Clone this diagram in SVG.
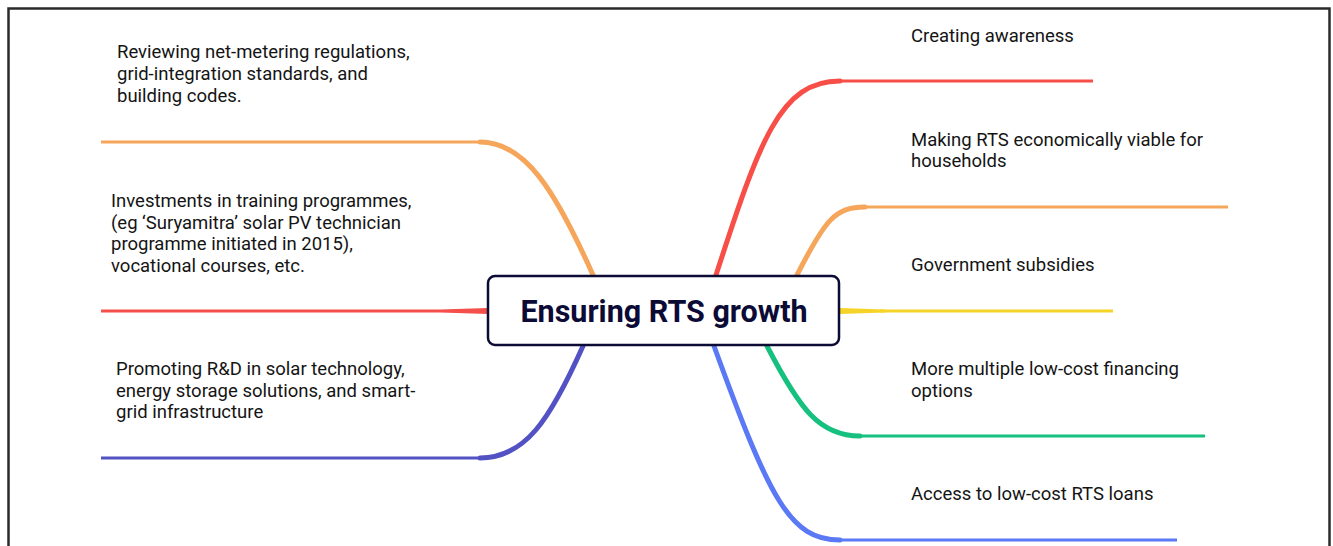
<svg xmlns="http://www.w3.org/2000/svg" width="1333" height="546" viewBox="0 0 1333 546">
<style>
.t{font-family:Roboto,"Liberation Sans",sans-serif;font-size:18.5px;fill:#141414}
.c{fill:none;stroke-width:5;stroke-linecap:round}
.h{fill:none;stroke-width:3}
.title{font-family:Roboto,"Liberation Sans",sans-serif;font-size:30.5px;font-weight:bold;fill:#0b0b36}
</style>
<rect x="0" y="0" width="1333" height="546" fill="#ffffff"/>
<path d="M8.5,560 V8.5 H1329.5 V560" fill="none" stroke="#2b2b2b" stroke-width="2.5"/>
<g id="connectors">
<path class="c" stroke="#f5a65b" d="M593,275 C555,190 525,142 480,142"/>
<path class="h" stroke="#f5a65b" d="M480,142 H101"/>
<path fill="#f44f4a" d="M488,308 L440,309.5 L440,312.5 L488,314 Z"/>
<path class="h" stroke="#f44f4a" d="M440,311 H101"/>
<path class="c" stroke="#5352c4" d="M583,346 C550,420 525,458 480,458"/>
<path class="h" stroke="#5352c4" d="M480,458 H101"/>
<path class="c" stroke="#f74f48" d="M716,275 C760,140 780,81 840,81"/>
<path class="h" stroke="#f74f48" d="M840,81 H1093"/>
<path class="c" stroke="#f5a65b" d="M797,275 C825,220 835,207 865,207"/>
<path class="h" stroke="#f5a65b" d="M865,207 H1228"/>
<path fill="#f5d327" d="M839,308 L885,309.5 L885,312.5 L839,314 Z"/>
<path class="h" stroke="#f5d327" d="M880,311 H1113"/>
<path class="c" stroke="#16c07f" d="M767,346 C800,410 820,436 860,436"/>
<path class="h" stroke="#16c07f" d="M860,436 H1205"/>
<path class="c" stroke="#5b78f5" d="M714,346 C770,500 790,540 840,540"/>
<path class="h" stroke="#5b78f5" d="M840,540 H1177"/>
</g>
<g id="center">
<rect x="488" y="276" width="351" height="69" rx="7" fill="#ffffff" stroke="#0b0b36" stroke-width="2.5"/>
<text class="title" x="664" y="322" text-anchor="middle">Ensuring RTS growth</text>
</g>
<g id="n-reviewing"><text class="t" x="117" y="58">Reviewing net-metering regulations,<tspan x="117" y="80">grid-integration standards, and</tspan><tspan x="117" y="102">building codes.</tspan></text></g>
<g id="n-investments"><text class="t" x="111" y="207">Investments in training programmes,<tspan x="111" y="229">(eg ‘Suryamitra’ solar PV technician</tspan><tspan x="111" y="250">programme initiated in 2015),</tspan><tspan x="111" y="272">vocational courses, etc.</tspan></text></g>
<g id="n-promoting"><text class="t" x="116" y="375">Promoting R&amp;D in solar technology,<tspan x="116" y="397">energy storage solutions, and smart-</tspan><tspan x="116" y="418">grid infrastructure</tspan></text></g>
<g id="n-awareness"><text class="t" x="911" y="42">Creating awareness</text></g>
<g id="n-viable"><text class="t" x="911" y="146">Making RTS economically viable for<tspan x="911" y="167">households</tspan></text></g>
<g id="n-subsidies"><text class="t" x="911" y="271">Government subsidies</text></g>
<g id="n-financing"><text class="t" x="911" y="375">More multiple low-cost financing<tspan x="911" y="397">options</tspan></text></g>
<g id="n-loans"><text class="t" x="911" y="500">Access to low-cost RTS loans</text></g>
</svg>
